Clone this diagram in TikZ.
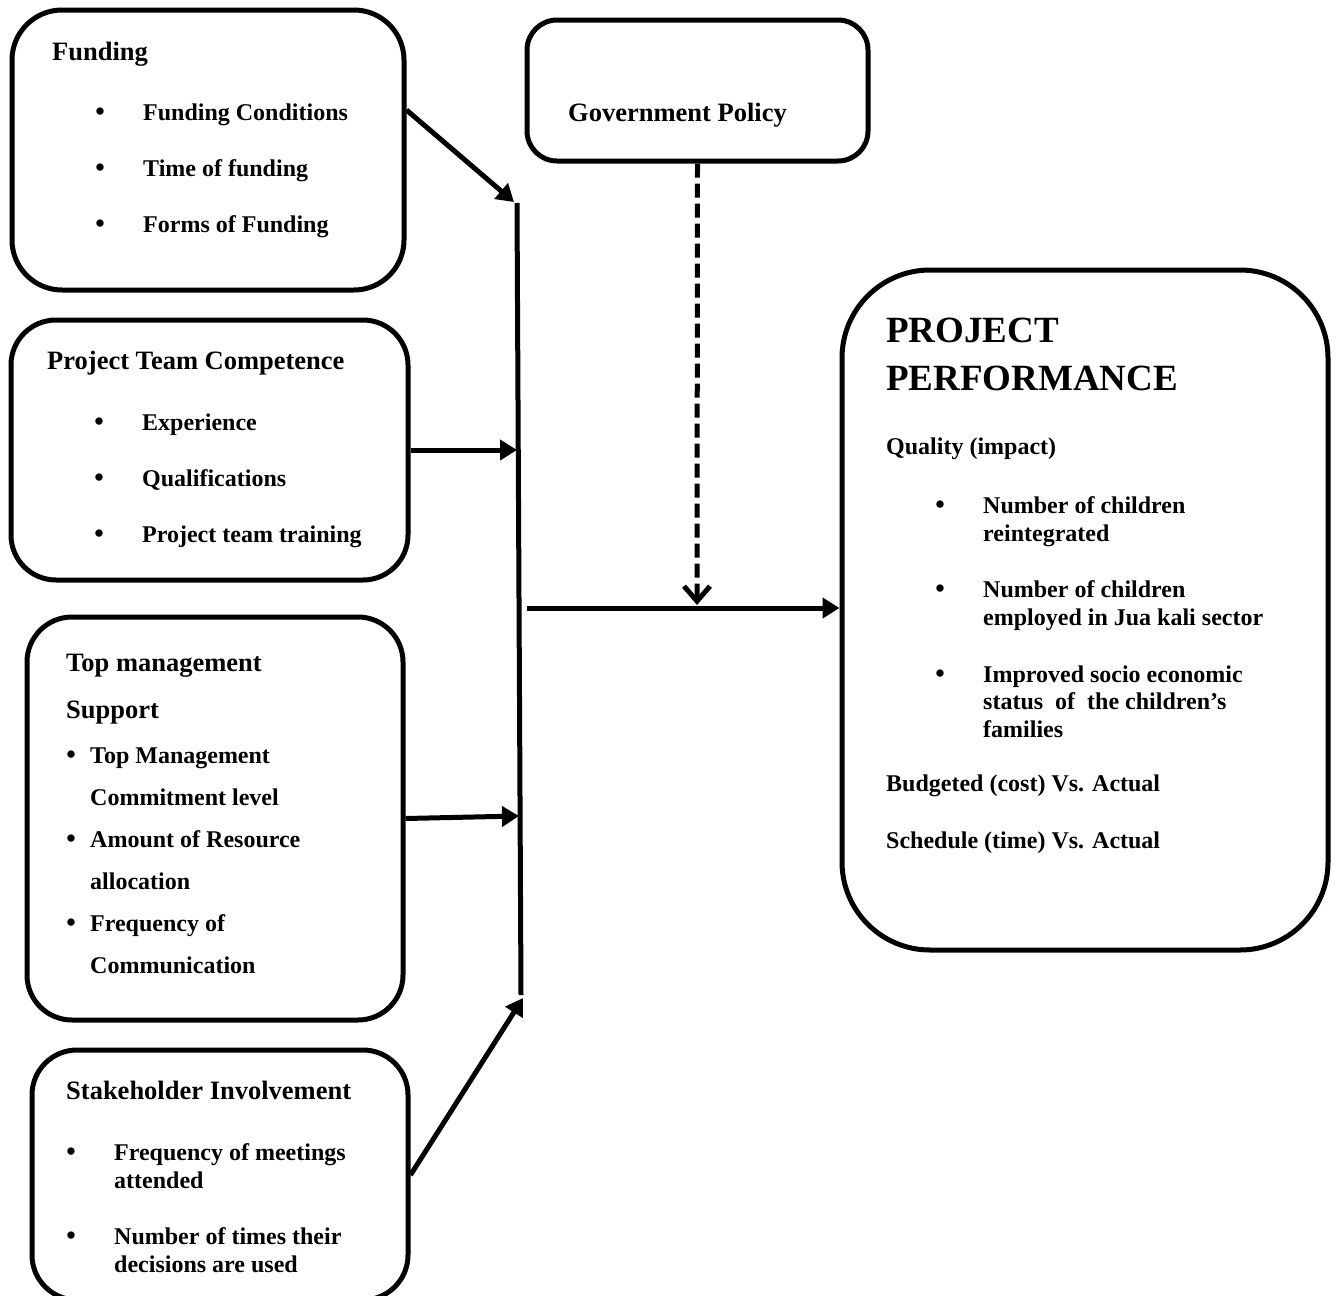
\documentclass[tikz,border=0pt]{standalone}
\usepackage{fontspec}
\setmainfont{Liberation Serif}
\usetikzlibrary{arrows.meta}
\begin{document}
\begin{tikzpicture}[x=1pt,y=-1pt,
 box/.style={draw,line width=5pt,inner sep=0pt},
 hdr/.style={anchor=base west,inner sep=0pt,font=\fontsize{26.5}{30}\selectfont\bfseries},
 itm/.style={anchor=base west,inner sep=0pt,font=\fontsize{24}{28}\selectfont\bfseries},
 bul/.style={anchor=base,inner sep=0pt,font=\fontsize{27}{28}\selectfont\bfseries},
 ttl/.style={anchor=base west,inner sep=0pt,font=\fontsize{37}{42}\selectfont\bfseries},
 arr/.style={line width=5pt,-{Triangle[length=17pt,width=20pt]}},
]
\useasboundingbox (0,0) rectangle (1339,1296);

% boxes
\node[box,minimum width=392pt,minimum height=280pt,rounded corners=50pt] (f) at (208,150) {};
\node[box,minimum width=397pt,minimum height=260pt,rounded corners=45pt] (p) at (209.5,450) {};
\node[box,minimum width=376pt,minimum height=403pt,rounded corners=45pt] (t) at (215,818.5) {};
\node[box,minimum width=376pt,minimum height=250pt,rounded corners=45pt] (s) at (220,1175) {};
\node[box,minimum width=341pt,minimum height=141pt,rounded corners=30pt] (g) at (697.5,90.5) {};
\node[box,minimum width=486pt,minimum height=680pt,rounded corners=88pt] (r) at (1085,610) {};

% Funding
\node[hdr] (f0) at (52,60) {Funding};
\node[bul] (fb1) at (100,120) {•};
\node[itm] (f1) at (143,120) {Funding Conditions};
\node[bul] (fb2) at (100,176) {•};
\node[itm] (f2) at (143,176) {Time of funding};
\node[bul] (fb3) at (100,232) {•};
\node[itm] (f3) at (143,232) {Forms of Funding};

% Project team competence
\node[hdr] (p0) at (47,369) {Project Team Competence};
\node[bul] (pb1) at (99,430) {•};
\node[itm] (p1) at (142,430) {Experience};
\node[bul] (pb2) at (99,486) {•};
\node[itm] (p2) at (142,486) {Qualifications};
\node[bul] (pb3) at (99,542) {•};
\node[itm] (p3) at (142,542) {Project team training};

% Top management support
\node[hdr] (t0) at (66,671) {Top management};
\node[hdr] (t00) at (66,718) {Support};
\node[bul] (tb1) at (71,763) {•};
\node[itm] (t1) at (90,763) {Top Management};
\node[itm] (t1b) at (90,805) {Commitment level};
\node[bul] (tb2) at (71,847) {•};
\node[itm] (t2) at (90,847) {Amount of Resource};
\node[itm] (t2b) at (90,889) {allocation};
\node[bul] (tb3) at (71,931) {•};
\node[itm] (t3) at (90,931) {Frequency of};
\node[itm] (t3b) at (90,973) {Communication};

% Stakeholder involvement
\node[hdr] (s0) at (66,1099) {Stakeholder Involvement};
\node[bul] (sb1) at (71,1160) {•};
\node[itm] (s1) at (114,1160) {Frequency of meetings};
\node[itm] (s1b) at (114,1188) {attended};
\node[bul] (sb2) at (71,1244) {•};
\node[itm] (s2) at (114,1244) {Number of times their};
\node[itm] (s2b) at (114,1272) {decisions are used};

% Government policy
\node[hdr] (g0) at (568,121) {Government Policy};

% Project performance
\node[ttl] (r0) at (886,342) {PROJECT};
\node[ttl] (r00) at (886,390) {PERFORMANCE};
\node[itm] (rq) at (886,454) {Quality (impact)};
\node[bul] (rb1) at (940,513) {•};
\node[itm] (r1) at (983,513) {Number of children};
\node[itm] (r1b) at (983,541) {reintegrated};
\node[bul] (rb2) at (940,597) {•};
\node[itm] (r2) at (983,597) {Number of children};
\node[itm] (r2b) at (983,625) {employed in Jua kali sector};
\node[bul] (rb3) at (940,682) {•};
\node[itm] (r3) at (983,682) {Improved socio economic};
\node[itm] (r3b) at (983,709) {status\ \ of\ \ the children’s};
\node[itm] (r3c) at (983,737) {families};
\node[itm] (r4) at (886,791) {Budgeted (cost) Vs. Actual};
\node[itm] (r5) at (886,848) {Schedule (time) Vs. Actual};

% connectors
\coordinate (bartop) at (517,203);
\coordinate (barbot) at (521,995);
\coordinate (tipf) at (514,202);
\coordinate (tipp) at (517,450);
\coordinate (tipt) at (519,816);
\coordinate (tips) at (523,998);
\coordinate (hstart) at (527,608);
\coordinate (dtip) at (697,605);

\draw[line width=5pt] (bartop) -- (barbot);
\draw[arr] ([yshift=40pt]f.east) -- (tipf);
\draw[arr] (p.east) -- (tipp);
\draw[arr] (t.east) -- (tipt);
\draw[arr] (s.east) -- (tips);
\draw[arr] (hstart) -- (hstart -| r.west);
\draw[line width=5pt,dash pattern=on 14pt off 6pt,-{Straight Barb[length=15pt,width=26pt]}] (g.south) -- (dtip);
\end{tikzpicture}
\end{document}
